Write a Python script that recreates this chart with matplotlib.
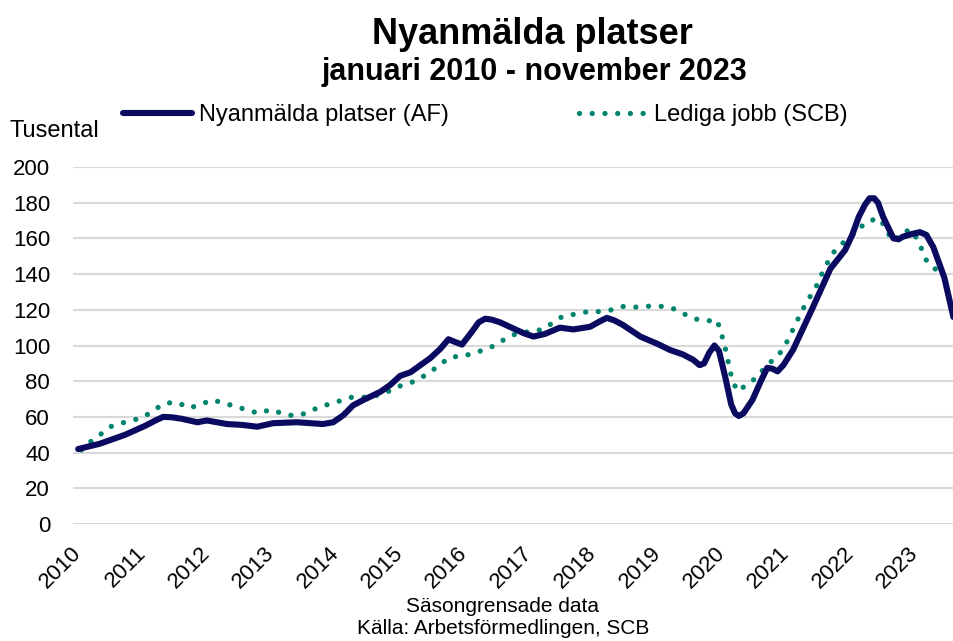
import matplotlib
matplotlib.use('Agg')
import matplotlib.pyplot as plt

plt.rcParams['font.family'] = ['Liberation Sans', 'DejaVu Sans']

# Nyanmälda platser (AF), tusental (decimal years)
af_x = [2010.0, 2010.34, 2010.73, 2011.04, 2011.2, 2011.32, 2011.45, 2011.6, 2011.85, 2012.0,
        2012.31, 2012.55, 2012.78, 2013.03, 2013.4, 2013.8, 2013.96, 2014.12, 2014.27, 2014.43,
        2014.69, 2014.85, 2015.0, 2015.16, 2015.47, 2015.62, 2015.75, 2015.85, 2015.96, 2016.12,
        2016.22, 2016.32, 2016.42, 2016.55, 2016.91, 2017.07, 2017.25, 2017.48, 2017.69, 2017.95,
        2018.1, 2018.21, 2018.33, 2018.46, 2018.73, 2018.99, 2019.19, 2019.39, 2019.55, 2019.65,
        2019.72, 2019.8, 2019.88, 2019.95, 2020.05, 2020.14, 2020.2, 2020.26, 2020.33, 2020.47,
        2020.6, 2020.7, 2020.78, 2020.86, 2020.95, 2021.1, 2021.41, 2021.68, 2021.91, 2022.02,
        2022.12, 2022.22, 2022.29, 2022.36, 2022.42, 2022.5, 2022.66, 2022.74, 2022.81, 2022.95,
        2023.07, 2023.17, 2023.28, 2023.45, 2023.59]
af_y = [42, 45, 50, 55, 58, 60, 59.8, 59, 57, 58,
        56, 55.5, 54.5, 56.5, 57, 56, 57, 61, 66.5, 69.5,
        74, 78, 83, 85, 93, 98, 103.5, 102, 100.5, 108,
        113, 115, 114.5, 113, 107, 105, 106.5, 110, 109, 110.5,
        113.5, 115.5, 114, 111.5, 105, 101, 97.5, 95, 92, 89,
        90, 96, 100, 97, 82, 67, 62, 60.5, 62, 69.5,
        80, 87.5, 87, 85.5, 89, 97.5, 121.5, 143, 153.5, 162,
        172, 179, 182.5, 182.5, 180, 172, 160, 159.5, 161, 162.5,
        163.5, 162, 155, 138, 116]

# Lediga jobb (SCB), tusental
scb_x = [2010.05, 2010.19, 2010.34, 2010.50, 2010.68, 2010.85, 2011.04, 2011.20, 2011.37,
         2011.55, 2011.72, 2011.89, 2012.07, 2012.25, 2012.42, 2012.62, 2012.80, 2012.98,
         2013.17, 2013.35, 2013.54, 2013.71, 2013.88, 2014.07, 2014.25, 2014.44, 2014.63,
         2014.80, 2014.97, 2015.16, 2015.33, 2015.50, 2015.64, 2015.79, 2015.98, 2016.16,
         2016.35, 2016.52, 2016.68, 2016.85, 2017.05, 2017.22, 2017.38, 2017.53, 2017.73,
         2017.92, 2018.11, 2018.29, 2018.48, 2018.66, 2018.85, 2019.04, 2019.22, 2019.39,
         2019.57, 2019.75, 2019.92, 2019.98, 2020.03, 2020.08, 2020.11, 2020.16, 2020.23,
         2020.39, 2020.53, 2020.65, 2020.79, 2020.93, 2021.02, 2021.10, 2021.18, 2021.27,
         2021.37, 2021.46, 2021.54, 2021.63, 2021.72, 2021.86, 2022.00, 2022.14, 2022.28,
         2022.45, 2022.55, 2022.64, 2022.78, 2022.92, 2023.03, 2023.11, 2023.18, 2023.32]
scb_y = [41.5, 46, 50, 54.5, 56.6, 58, 60.5, 64.5, 67.8,
         68, 65, 66.7, 69.5, 68, 66, 64, 62, 64,
         62, 60.5, 62, 65, 67, 69, 71, 71, 72,
         74, 77, 79, 82, 86, 90, 93.6, 94, 96,
         98, 101, 105, 107, 108, 109, 113, 116.5, 117.6,
         119, 119, 120, 122, 121.5, 122, 122, 121, 118,
         115, 113.7, 114.3, 107.6, 101, 94, 87, 81, 74.5,
         78, 82, 87, 92, 97, 103, 109, 115, 121.5,
         127.7, 133, 139.5, 146, 151.8, 157, 161, 166, 170,
         171, 165, 158.5, 162.5, 165, 159.7, 153, 147, 142.5]

years = list(range(2010, 2024))
year_labels = [str(y) for y in years]
yticks = list(range(0, 201, 20))

W, H = 954, 641
fig = plt.figure(figsize=(W / 100, H / 100), dpi=100)
ax = fig.add_axes([73 / W, (H - 524) / H, (W - 73) / W, (524 - 167) / H])

ax.plot(scb_x, scb_y, color='#00846E', linewidth=3.8,
        linestyle=(0, (0.01, 2.4)), dash_capstyle='round',
        label='Lediga jobb (SCB)', zorder=2)
ax.plot(af_x, af_y, color='#0A0A60', linewidth=4.4,
        solid_joinstyle='round', solid_capstyle='round',
        label='Nyanmälda platser (AF)', zorder=3)

ax.set_xlim(2009.92, 2023.60)
ax.set_ylim(0, 200)
for s in ax.spines.values():
    s.set_visible(False)
ax.set_yticks(yticks)
ax.set_yticklabels([str(v) for v in yticks])
ax.set_xticks(years)
ax.set_xticklabels(year_labels, rotation=45, ha='right', va='center',
                   rotation_mode='anchor')
ax.grid(axis='y', color='#d9d9d9', linewidth=1.5)
ax.set_axisbelow(True)
ax.tick_params(length=0)
ax.tick_params(axis='y', labelsize=16, pad=16.5)
ax.tick_params(axis='x', labelsize=16, pad=19)

handles, labels = ax.get_legend_handles_labels()
order = [1, 0]
fig.legend([handles[i] for i in order], [labels[i] for i in order],
           ncol=2, loc='center', bbox_to_anchor=(0.509, 1 - 115 / H),
           frameon=False, fontsize=17, handlelength=2.9, handletextpad=0.3,
           columnspacing=5.5, borderaxespad=0, borderpad=0)

fig.text(0.558, 1 - 35 / H, 'Nyanmälda platser', ha='center', va='center',
         fontsize=26, fontweight='bold')
fig.text(0.560, 1 - 72 / H, 'januari 2010 - november 2023', ha='center',
         va='center', fontsize=22, fontweight='bold')
fig.text(10 / W, 1 - 131 / H, 'Tusental', ha='left', va='center', fontsize=17)
fig.text(0.527, 1 - 606 / H, 'Säsongrensade data', ha='center', va='center',
         fontsize=15)
fig.text(0.527, 1 - 629 / H, 'Källa: Arbetsförmedlingen, SCB', ha='center',
         va='center', fontsize=15)

fig.savefig('out.png', dpi=100)
